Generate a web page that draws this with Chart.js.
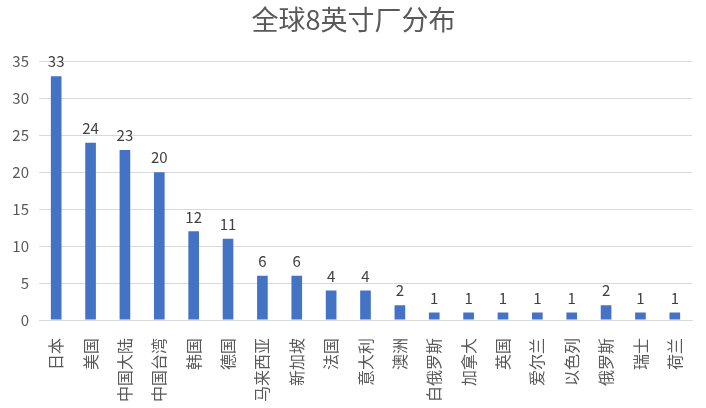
<!DOCTYPE html>
<html>
<head>
<meta charset="utf-8">
<script src="https://cdn.jsdelivr.net/npm/chart.js@4/dist/chart.umd.min.js"></script>
<style>
  html, body { margin:0; padding:0; background:#fff; }
  #wrap { width:706px; height:408px; position:relative; }
</style>
</head>
<body>
<div id="wrap"><canvas id="c"></canvas></div>
<script>
const categories = ['日本','美国','中国大陆','中国台湾','韩国','德国','马来西亚','新加坡','法国','意大利','澳洲','白俄罗斯','加拿大','英国','爱尔兰','以色列','俄罗斯','瑞士','荷兰'];
const fabCounts  = [33, 24, 23, 20, 12, 11, 6, 6, 4, 4, 2, 1, 1, 1, 1, 1, 2, 1, 1];
const yTicks     = [0, 5, 10, 15, 20, 25, 30, 35];

const FONT = '"Noto Sans CJK SC", "Noto Sans", sans-serif';

// simple value labels above each bar
const valueLabels = {
  id: 'valueLabels',
  afterDatasetsDraw(chart) {
    const { ctx } = chart;
    const meta = chart.getDatasetMeta(0);
    ctx.save();
    ctx.font = '15px ' + FONT;
    ctx.fillStyle = '#404040';
    ctx.textAlign = 'center';
    ctx.textBaseline = 'bottom';
    meta.data.forEach((bar, i) => {
      ctx.fillText(String(fabCounts[i]), bar.x, bar.y - 7);
    });
    ctx.restore();
  }
};

new Chart(document.getElementById('c'), {
  type: 'bar',
  data: {
    labels: categories,
    datasets: [{
      data: fabCounts,
      backgroundColor: '#4472C4',
      categoryPercentage: 1,
      barPercentage: 0.31,
    }]
  },
  plugins: [valueLabels],
  options: {
    responsive: true, maintainAspectRatio: false, animation: false,
    layout: { padding: { left: 2, right: 1, top: 0, bottom: 0 } },
    plugins: {
      legend: { display: false },
      tooltip: { enabled: false },
      title: {
        display: true, text: '全球8英寸厂分布',
        color: '#595959', font: { family: FONT, size: 27, weight: 'normal' },
        padding: { top: 4, bottom: 25 }
      }
    },
    scales: {
      x: {
        grid: { display: false },
        border: { color: '#d9d9d9' },
        afterFit: s => { s.height = 88; s.paddingRight = 14; },
        ticks: { color: '#595959', font: { family: FONT, size: 16 }, minRotation: 90, maxRotation: 90, autoSkip: false, padding: 10 }
      },
      y: {
        min: 0, max: 35,
        afterBuildTicks: s => { s.ticks = yTicks.map(v => ({ value: v })); },
        afterFit: s => { s.width = 37; },
        grid: { color: '#d9d9d9', drawTicks: false },
        border: { display: false },
        ticks: { color: '#595959', font: { family: FONT, size: 15 }, padding: 10 }
      }
    }
  }
});
</script>
</body>
</html>
